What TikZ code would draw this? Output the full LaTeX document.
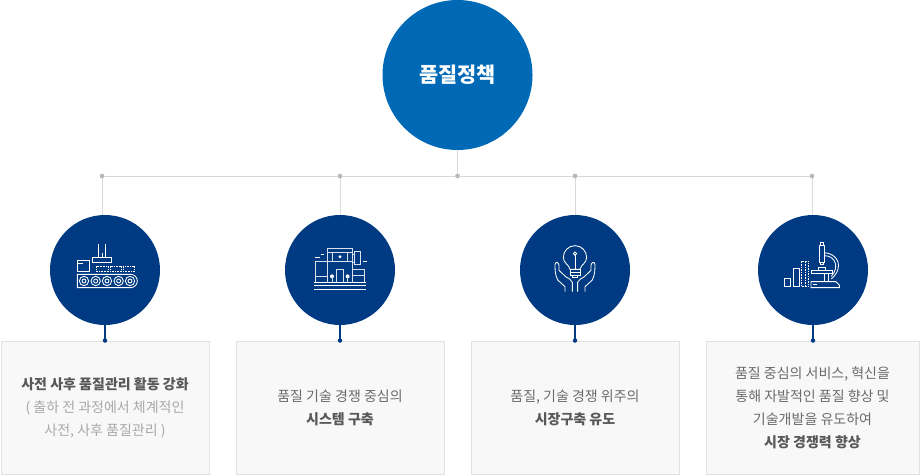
\documentclass[tikz,border=0pt]{standalone}
\usepackage{fontspec}
\setmainfont{Noto Sans CJK KR}
\definecolor{topblue}{HTML}{0069B6}
\definecolor{navy}{HTML}{003A83}
\definecolor{linegray}{HTML}{D9D9D9}
\definecolor{dotgray}{HTML}{B9B9B9}
\definecolor{boxfill}{HTML}{F8F8F8}
\definecolor{boxline}{HTML}{E2E2E2}
\definecolor{txt}{HTML}{6A6A6A}
\definecolor{txtb}{HTML}{585858}
\definecolor{txtl}{HTML}{A8A8A8}
\tikzset{
  bigcircle/.style={circle,fill=topblue,minimum size=150pt,inner sep=0pt,text=white,font=\fontsize{20.8}{24}\selectfont\bfseries},
  iconcircle/.style={circle,fill=navy,minimum size=110pt,inner sep=0pt},
  infobox/.style={draw=boxline,line width=1pt,fill=boxfill,minimum height=133pt,inner sep=0pt},
  boxtext/.style={inner sep=0pt,align=center,text=txt,font=\fontsize{14}{23}\selectfont},
  gdot/.style={circle,fill=dotgray,minimum size=4.5pt,inner sep=0pt},
  ndot/.style={circle,fill=navy,minimum size=4.5pt,inner sep=0pt},
  gline/.style={draw=linegray,line width=1pt},
  nline/.style={draw=navy,line width=1.1pt},
  ic/.style={draw=white,line width=0.85pt,line join=miter},
  icthin/.style={draw=white!85!navy,line width=0.9pt},
  icdash/.style={draw=white,line width=0.8pt,dash pattern=on 1.6pt off 1pt},
  izoom/.style={x=0.3333pt,y=-0.3333pt}
}
\newcommand{\boldtxt}[1]{\textcolor{txtb}{\bfseries #1}}
\newcommand{\lighttxt}[1]{\textcolor{txtl}{#1}}
\begin{document}
\begin{tikzpicture}[x=1pt,y=-1pt]
\useasboundingbox (0,0) rectangle (920,475);
% junctions
\node[gdot] (j0) at (102,176) {};
\node[gdot] (j1) at (340,176) {};
\node[gdot] (j2) at (457.5,176) {};
\node[gdot] (j3) at (575,176) {};
\node[gdot] (j4) at (812,176) {};
% lines
\draw[gline] (j0.center) -- (j4.center);
\draw[gline] (457.5,140) -- (j2.center);
\draw[gline] (j0.center) -- (102,230);
\draw[gline] (j1.center) -- (340,230);
\draw[gline] (j3.center) -- (575,230);
\draw[gline] (j4.center) -- (812,230);
\node[gdot] at (j0) {};\node[gdot] at (j1) {};\node[gdot] at (j2) {};\node[gdot] at (j3) {};\node[gdot] at (j4) {};
% circles
\node[iconcircle] (c1) at (105,270) {};
\node[iconcircle] (c2) at (340,270) {};
\node[iconcircle] (c3) at (575,270) {};
\node[iconcircle] (c4) at (813,270) {};
\node[bigcircle] (top) at (457.5,75) {품질정책};
% boxes
\node[infobox,minimum width=208pt] (b1) at (105,407.5) {};
\node[infobox,minimum width=208pt] (b2) at (340,407.5) {};
\node[infobox,minimum width=208pt] (b3) at (575,407.5) {};
\node[infobox,minimum width=213pt] (b4) at (812.5,407.5) {};
\node[boxtext] (t1) at ([yshift=-0.8pt]b1.center) {\boldtxt{사전 사후 품질관리 활동 강화}\\\lighttxt{( 출하 전 과정에서 체계적인}\\\lighttxt{사전, 사후 품질관리 )}};
\node[boxtext] (t2) at ([yshift=-0.8pt]b2.center) {품질 기술 경쟁 중심의\\\boldtxt{시스템 구축}};
\node[boxtext] (t3) at ([yshift=-0.8pt]b3.center) {품질, 기술 경쟁 위주의\\\boldtxt{시장구축 유도}};
\node[boxtext] (t4) at ([yshift=-0.8pt]b4.center) {품질 중심의 서비스, 혁신을\\통해 자발적인 품질 향상 및\\기술개발을 유도하여\\\boldtxt{시장 경쟁력 향상}};
% navy stems
\foreach \c/\b/\n in {c1/b1/d1,c2/b2/d2,c3/b3/d3,c4/b4/d4}{
  \node[ndot] (\n) at (\c.south |- \b.north) {};
  \draw[nline] (\c.south) -- (\n.center);
}
% icon 1: conveyor
\begin{scope}[shift={(40,205)},izoom]
\draw[ic] (112,167) rectangle (147,200);
\draw[ic] (112,175) -- (128,175);
\draw[ic] (157,158) rectangle (215,172);
\draw[ic] (175,118) -- (175,158) (197,118) -- (197,158) (186,145) -- (186,158);
\foreach \x in {170,210,250}{\draw[icdash] (\x,183) rectangle ++(34,17);}
\draw[ic] (112,248) -- (112,208) -- (272,208) arc (-90:90:20) -- cycle;
\foreach \x in {132,167,201,236,270}{
  \draw[ic] (\x,228) circle (14);
  \draw[ic] (\x,228) circle (6);
}
\end{scope}
% icon 2: factory
\begin{scope}[shift={(275,205)},izoom]
\draw[icthin] (158,130) rectangle (232,232);
\draw[icthin] (158,142) -- (232,142) (158,168) -- (232,168) (172,142) -- (172,168) (218,142) -- (218,168);
\fill[white] (195,155) circle (5);
\draw[icthin] (232,148) -- (238,148) -- (238,172) -- (232,172);
\draw[icthin] (238,138) rectangle (256,178);
\draw[icthin] (120,232) -- (120,170) -- (158,170) (120,214) -- (158,214);
\draw[icthin] (232,193) rectangle (269,232) (232,212) -- (269,212);
\draw[icthin] (184,232) -- (184,194) -- (205,194) -- (205,232);
\foreach \x in {171,218}{\fill[white] (\x,214) circle (6); \draw[icthin] (\x,214) -- (\x,232);}
\draw[ic] (118,232) -- (272,232);
\draw[ic] (118,242) -- (272,242) (118,253) -- (272,253);
\draw[ic] (120,157) -- (136,157) (137,148) -- (146,148) (265,169) -- (275,169);
\end{scope}
% icon 3: bulb in hands
\begin{scope}[shift={(515,205)},izoom]
\draw[ic] (165,193) .. controls (162,178) and (145,175) .. (145,157) arc (180:360:35) .. controls (215,175) and (198,178) .. (195,193) -- cycle;
\draw[ic] (180,151) -- (180,193);
\draw[ic] (180,146) circle (5);
\draw[ic] (165,193) -- (165,212) -- (195,212) -- (195,193) (165,203) -- (195,203);
\draw[ic] (172,212) -- (172,218) -- (188,218) -- (188,212);
\draw[ic] (172,260) -- (172,232) .. controls (170,222) and (160,222) .. (152,215) -- (132,196) (150,260) -- (150,245) -- (128,225) .. controls (120,210) and (120,190) .. (120,178) .. controls (122,168) and (132,172) .. (132,182) -- (132,196);
\draw[ic] (188,260) -- (188,232) .. controls (190,222) and (200,222) .. (208,215) -- (228,196) (210,260) -- (210,245) -- (232,225) .. controls (240,210) and (240,190) .. (240,178) .. controls (238,168) and (228,172) .. (228,182) -- (228,196);
\end{scope}
% icon 4: microscope and bars
\begin{scope}[shift={(750,205)},izoom]
\draw[ic] (104,220) rectangle (122,245);
\draw[ic] (129,190) rectangle (148,245);
\draw[icdash] (155,169) rectangle (176,245);
\draw[icdash] (165,169) -- (165,245);
\draw[ic] (207,120) rectangle (223,172);
\draw[ic] (211,112) rectangle (219,120);
\draw[ic] (211,172) -- (211,177) -- (219,177) -- (219,172);
\draw[ic] (223,143) .. controls (262,145) and (285,185) .. (244,222);
\draw[ic] (223,152) .. controls (255,152) and (270,185) .. (244,214);
\draw[ic] (183,195) rectangle (246,205);
\draw[ic] (205,188) rectangle (227,195);
\draw[ic] (223,205) -- (223,230) (236,205) -- (236,230);
\draw[ic] (183,230) -- (258,230) -- (268,240) -- (268,248) -- (183,248) -- cycle;
\draw[ic] (188,239) -- (202,239);
\end{scope}
\end{tikzpicture}
\end{document}
